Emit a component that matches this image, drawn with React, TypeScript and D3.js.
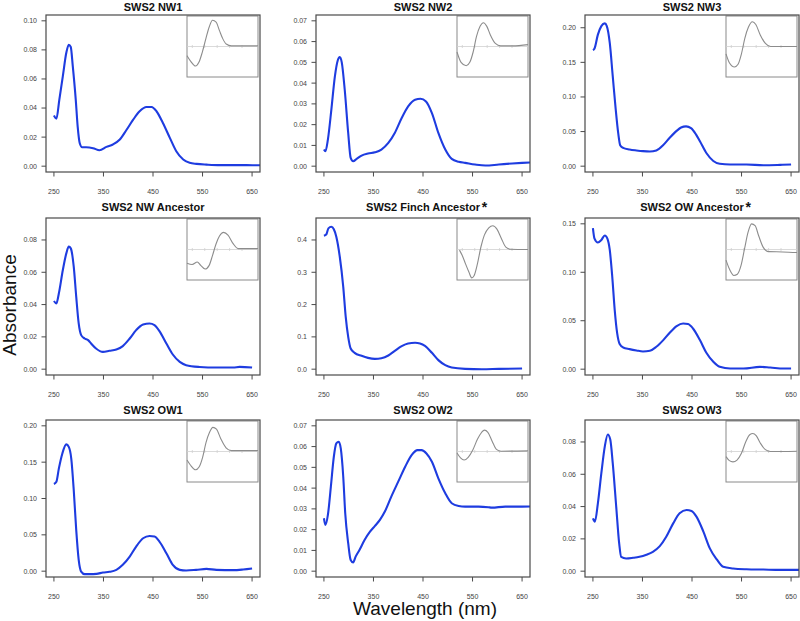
import React from "react";
import * as d3 from "d3";

// ---------- DATA ----------
const X_LIMITS = [250, 650];
const X_TICKS = [250, 350, 450, 550, 650];
const INSET_X_LIMITS = [300, 700];
const INSET_TICKS = [330, 400, 470, 540, 610];

const TITLES = [
  "SWS2 NW1", "SWS2 NW2", "SWS2 NW3",
  "SWS2 NW Ancestor", "SWS2 Finch Ancestor", "SWS2 OW Ancestor",
  "SWS2 OW1", "SWS2 OW2", "SWS2 OW3",
];
const STARRED = [false, false, false, false, true, true, false, false, false];

const Y_LIMITS = [
  [0, 0.1], [0, 0.07], [0, 0.21],
  [0, 0.09], [0, 0.45], [0, 0.15],
  [0, 0.2], [0, 0.07], [0, 0.09],
];
const Y_TICKS = [
  [0, 0.02, 0.04, 0.06, 0.08, 0.1],
  [0, 0.01, 0.02, 0.03, 0.04, 0.05, 0.06, 0.07],
  [0, 0.05, 0.1, 0.15, 0.2],
  [0, 0.02, 0.04, 0.06, 0.08],
  [0, 0.1, 0.2, 0.3, 0.4],
  [0, 0.05, 0.1, 0.15],
  [0, 0.05, 0.1, 0.15, 0.2],
  [0, 0.01, 0.02, 0.03, 0.04, 0.05, 0.06, 0.07],
  [0, 0.02, 0.04, 0.06, 0.08],
];
const Y_DECIMALS = [2, 2, 2, 2, 1, 2, 2, 2, 2];

// main absorbance spectra
const NW1_WL = [250, 255, 261, 268, 275, 280, 284, 288, 294, 298, 302, 307, 315, 329, 342, 356, 369, 383, 396, 410, 423, 437, 447, 457, 470, 484, 497, 511, 524, 538, 558, 585, 612, 639, 670, 700];
const NW1_ABS = [0.0348, 0.0327, 0.046, 0.062, 0.078, 0.0835, 0.082, 0.069, 0.046, 0.027, 0.016, 0.013, 0.013, 0.0124, 0.011, 0.0133, 0.0149, 0.0183, 0.0247, 0.032, 0.0378, 0.0407, 0.0407, 0.0378, 0.0297, 0.0195, 0.0103, 0.0046, 0.0023, 0.0016, 0.0011, 0.0007, 0.0007, 0.0007, 0.0006, 0.0006];

const NW2_WL = [250, 253, 258, 265, 272, 278, 282, 286, 292, 299, 304, 309, 316, 326, 339, 353, 366, 380, 393, 407, 420, 434, 445, 456, 468, 481, 495, 508, 522, 535, 555, 576, 603, 630, 650, 700];
const NW2_ABS = [0.008, 0.0072, 0.0128, 0.0272, 0.043, 0.051, 0.0525, 0.05, 0.0368, 0.016, 0.004, 0.0024, 0.0035, 0.0051, 0.0061, 0.0067, 0.008, 0.0112, 0.016, 0.0232, 0.0288, 0.032, 0.0325, 0.0312, 0.0256, 0.016, 0.008, 0.0035, 0.0021, 0.0016, 0.0008, 0.0003, 0.0008, 0.0013, 0.0016, 0.0022];

const NW3_WL = [250, 253, 260, 267, 274, 278, 284, 290, 296, 301, 305, 311, 324, 338, 351, 365, 378, 392, 405, 419, 428, 438, 448, 458, 466, 479, 493, 506, 527, 560, 594, 628, 650];
const NW3_ABS = [0.1677, 0.1696, 0.19, 0.2024, 0.2063, 0.2024, 0.178, 0.13, 0.082, 0.048, 0.0304, 0.0265, 0.0241, 0.0227, 0.0217, 0.0212, 0.0228, 0.0305, 0.041, 0.051, 0.0558, 0.0575, 0.055, 0.046, 0.036, 0.019, 0.0075, 0.0034, 0.0024, 0.0024, 0.0014, 0.0019, 0.0024];

const NWA_WL = [250, 255, 260, 268, 275, 280, 284, 290, 295, 300, 305, 312, 319, 325, 335, 349, 362, 376, 389, 403, 416, 430, 443, 453, 463, 477, 490, 504, 517, 544, 578, 612, 625, 650];
const NWA_ABS = [0.0422, 0.0407, 0.047, 0.0614, 0.0717, 0.0759, 0.0748, 0.0635, 0.0449, 0.0283, 0.0211, 0.019, 0.018, 0.0159, 0.0128, 0.0107, 0.0114, 0.0122, 0.0143, 0.019, 0.0242, 0.0277, 0.0283, 0.0273, 0.0236, 0.0159, 0.0091, 0.0045, 0.0025, 0.0014, 0.001, 0.001, 0.0014, 0.001];

const FINCH_WL = [250, 255, 259, 265, 270, 275, 282, 289, 294, 299, 304, 312, 326, 339, 353, 366, 380, 393, 407, 420, 434, 444, 454, 468, 481, 495, 508, 535, 569, 603, 650];
const FINCH_ABS = [0.413, 0.4176, 0.436, 0.441, 0.433, 0.41, 0.348, 0.255, 0.162, 0.1, 0.064, 0.0506, 0.0413, 0.035, 0.032, 0.034, 0.0424, 0.0568, 0.0713, 0.0796, 0.0817, 0.0796, 0.0723, 0.0506, 0.028, 0.0124, 0.0052, 0.001, 0.0, 0.001, 0.002];

const OWA_WL = [250, 253, 260, 267, 274, 279, 284, 289, 294, 299, 304, 311, 324, 338, 351, 365, 378, 392, 405, 419, 432, 442, 452, 466, 479, 493, 506, 527, 554, 587, 608, 635, 650];
const OWA_ABS = [0.1455, 0.135, 0.1307, 0.1334, 0.138, 0.135, 0.123, 0.0955, 0.061, 0.0369, 0.0259, 0.0224, 0.0207, 0.0193, 0.0183, 0.019, 0.0231, 0.03, 0.0376, 0.0445, 0.0472, 0.0466, 0.042, 0.03, 0.0169, 0.0076, 0.0024, 0.0007, 0.0007, 0.0024, 0.0017, 0.0007, 0.0007];

const OW1_WL = [250, 255, 260, 267, 275, 280, 285, 290, 295, 300, 305, 312, 322, 336, 349, 362, 376, 389, 403, 416, 430, 443, 453, 463, 477, 490, 504, 517, 537, 558, 578, 612, 632, 650];
const OW1_ABS = [0.12, 0.1231, 0.1414, 0.162, 0.1744, 0.171, 0.155, 0.1117, 0.0568, 0.0156, -0.0005, -0.004, -0.004, -0.0037, -0.0018, -0.0009, 0.0018, 0.0087, 0.02, 0.0339, 0.0453, 0.0485, 0.0476, 0.0407, 0.0247, 0.0087, 0.0018, 0.0009, 0.0018, 0.0032, 0.0018, 0.0014, 0.0023, 0.0037];

const OW2_WL = [250, 253, 258, 264, 270, 275, 280, 284, 289, 293, 299, 304, 309, 314, 322, 332, 343, 353, 363, 373, 386, 400, 414, 427, 439, 447, 457, 468, 481, 495, 508, 522, 535, 562, 582, 589, 616, 650, 700];
const OW2_ABS = [0.0255, 0.0223, 0.0271, 0.0407, 0.0551, 0.0615, 0.0623, 0.0591, 0.0455, 0.0279, 0.0135, 0.0054, 0.0042, 0.007, 0.0103, 0.015, 0.019, 0.0218, 0.0247, 0.0287, 0.0359, 0.0431, 0.0503, 0.0559, 0.0583, 0.0583, 0.0567, 0.0527, 0.0447, 0.0375, 0.0327, 0.0314, 0.0311, 0.0311, 0.0308, 0.0306, 0.0311, 0.0311, 0.0314];

const OW3_WL = [250, 254, 260, 267, 274, 280, 285, 290, 297, 303, 307, 317, 331, 344, 358, 371, 385, 398, 412, 425, 439, 449, 459, 473, 486, 500, 513, 533, 560, 594, 628, 700];
const OW3_ABS = [0.0327, 0.0307, 0.042, 0.0607, 0.0773, 0.0846, 0.0815, 0.0669, 0.04, 0.0172, 0.0089, 0.0079, 0.0083, 0.0089, 0.0102, 0.012, 0.0155, 0.0213, 0.0296, 0.0359, 0.0379, 0.0373, 0.0338, 0.0245, 0.0141, 0.0073, 0.0027, 0.0017, 0.0012, 0.001, 0.0008, 0.0008];

// inset difference spectra (relative units)
const NW1_DIFF_WL = [300, 319, 348, 367, 386, 406, 425, 444, 464, 483, 502, 521, 550, 700];
const NW1_DIFF = [-0.3, -0.47, -0.64, -0.52, -0.19, 0.25, 0.64, 0.86, 0.8, 0.52, 0.25, 0.08, 0.02, 0.02];
const NW2_DIFF_WL = [300, 323, 352, 372, 391, 410, 430, 449, 468, 488, 516, 546, 613, 700];
const NW2_DIFF = [-0.18, -0.52, -0.63, -0.52, -0.18, 0.33, 0.66, 0.78, 0.66, 0.38, 0.1, 0.02, 0.02, 0.06];
const NW3_DIFF_WL = [300, 319, 348, 368, 387, 406, 426, 449, 468, 493, 522, 551, 700];
const NW3_DIFF = [-0.24, -0.53, -0.67, -0.58, -0.24, 0.27, 0.63, 0.81, 0.72, 0.38, 0.1, 0.0, 0.0];
const NWA_DIFF_WL = [300, 329, 358, 377, 402, 425, 444, 464, 483, 506, 531, 560, 588, 700];
const NWA_DIFF = [-0.45, -0.49, -0.41, -0.52, -0.64, -0.52, -0.19, 0.19, 0.44, 0.56, 0.47, 0.19, 0.03, 0.03];
const FINCH_DIFF_WL = [314, 329, 348, 367, 383, 396, 415, 435, 454, 479, 502, 525, 550, 575, 602, 700];
const FINCH_DIFF = [-0.02, -0.19, -0.47, -0.74, -0.93, -0.86, -0.47, 0.09, 0.47, 0.71, 0.78, 0.67, 0.36, 0.08, 0.01, 0.0];
const OWA_DIFF_WL = [300, 320, 344, 364, 384, 404, 424, 444, 464, 484, 510, 540, 620, 700];
const OWA_DIFF = [-0.35, -0.65, -0.85, -0.81, -0.54, 0.01, 0.56, 0.84, 0.78, 0.45, 0.07, -0.07, -0.08, -0.1];
const OW1_DIFF_WL = [300, 320, 349, 368, 388, 407, 427, 446, 466, 491, 520, 550, 700];
const OW1_DIFF = [-0.28, -0.45, -0.6, -0.51, -0.19, 0.29, 0.63, 0.79, 0.73, 0.41, 0.12, 0.03, 0.03];
const OW2_DIFF_WL = [300, 320, 340, 363, 389, 415, 439, 454, 474, 498, 522, 548, 700];
const OW2_DIFF = [-0.05, -0.21, -0.28, -0.19, 0.05, 0.4, 0.63, 0.7, 0.63, 0.34, 0.07, 0.01, 0.02];
const OW3_DIFF_WL = [300, 319, 339, 362, 387, 412, 435, 451, 470, 493, 522, 551, 700];
const OW3_DIFF = [-0.17, -0.3, -0.34, -0.28, -0.06, 0.33, 0.56, 0.59, 0.52, 0.28, 0.06, 0.0, 0.01];

const SPECTRA_WL = [NW1_WL, NW2_WL, NW3_WL, NWA_WL, FINCH_WL, OWA_WL, OW1_WL, OW2_WL, OW3_WL];
const SPECTRA_ABS = [NW1_ABS, NW2_ABS, NW3_ABS, NWA_ABS, FINCH_ABS, OWA_ABS, OW1_ABS, OW2_ABS, OW3_ABS];
const DIFF_WL = [NW1_DIFF_WL, NW2_DIFF_WL, NW3_DIFF_WL, NWA_DIFF_WL, FINCH_DIFF_WL, OWA_DIFF_WL, OW1_DIFF_WL, OW2_DIFF_WL, OW3_DIFF_WL];
const DIFF_VAL = [NW1_DIFF, NW2_DIFF, NW3_DIFF, NWA_DIFF, FINCH_DIFF, OWA_DIFF, OW1_DIFF, OW2_DIFF, OW3_DIFF];

// ---------- LAYOUT ----------
const W = 800;
const H = 621;
const COL_LEFT = [46, 316, 585];
const ROW_TOP = [15, 218, 420];
const ROW_TITLE = [10.5, 211, 414];
const PW = 214;
const PH = 157;
const FONT = '"Liberation Sans", Arial, Helvetica, sans-serif';
const BLUE = "#1e3ce0";

function measure(text: string, font: string): number {
  try {
    const c = document.createElement("canvas").getContext("2d");
    if (!c) return text.length * 6;
    c.font = font;
    return c.measureText(text).width;
  } catch (e) {
    return text.length * 6;
  }
}

function Panel({ i }: { i: number }) {
  const col = i % 3;
  const row = Math.floor(i / 3);
  const left = COL_LEFT[col];
  const top = ROW_TOP[row];
  const right = left + PW;
  const bottom = top + PH;

  const xr = X_LIMITS[1] - X_LIMITS[0];
  const x = d3.scaleLinear().domain([X_LIMITS[0] - 0.04 * xr, X_LIMITS[1] + 0.04 * xr]).range([left, right]);
  const [y0, y1] = Y_LIMITS[i];
  const yrg = y1 - y0;
  const y = d3.scaleLinear().domain([y0 - 0.04 * yrg, y1 + 0.04 * yrg]).range([bottom, top]);

  const pts: [number, number][] = SPECTRA_WL[i].map((w, k) => [w, SPECTRA_ABS[i][k]]);
  const line = d3.line<[number, number]>().x((d) => x(d[0])).y((d) => y(d[1])).curve(d3.curveMonotoneX);

  // inset
  const ix0 = right - 73;
  const ix1 = right - 2;
  const iy0 = top + 1;
  const iy1 = top + 62;
  const ixs = d3.scaleLinear().domain(INSET_X_LIMITS).range([ix0, ix1]);
  const iys = d3.scaleLinear().domain([-1, 1]).range([iy1, iy0]);
  const ipts: [number, number][] = DIFF_WL[i].map((w, k) => [w, DIFF_VAL[i][k]]);
  const iline = d3.line<[number, number]>().x((d) => ixs(d[0])).y((d) => iys(d[1])).curve(d3.curveMonotoneX);

  const fmt = d3.format(`.${Y_DECIMALS[i]}f`);
  const cx = (left + right) / 2;
  const titleFont = `bold 11px ${FONT}`;
  const tw = measure(TITLES[i], titleFont);
  const clipId = `clip${i}`;

  return (
    <g>
      <defs>
        <clipPath id={clipId}>
          <rect x={left} y={top} width={PW} height={PH} />
        </clipPath>
      </defs>
      <text x={cx} y={ROW_TITLE[row]} textAnchor="middle" fontFamily={FONT} fontWeight="bold" fontSize={11} fill="#111">
        {TITLES[i]}
      </text>
      {STARRED[i] && (
        <text x={cx + tw / 2 + 1.5} y={ROW_TITLE[row] + 0.5} fontFamily={FONT} fontWeight="bold" fontSize={14} fill="#111">
          *
        </text>
      )}
      <path d={line(pts) || ""} fill="none" stroke={BLUE} strokeWidth={2.1} strokeLinejoin="round" clipPath={`url(#${clipId})`} />
      {/* inset */}
      <rect x={ix0} y={iy0} width={ix1 - ix0} height={iy1 - iy0} fill="white" stroke="#8a8a8a" strokeWidth={1} />
      <line x1={ix0} x2={ix1} y1={iys(0)} y2={iys(0)} stroke="#d0d0d0" strokeWidth={0.8} />
      {INSET_TICKS.map((t) => (
        <line key={t} x1={ixs(t)} x2={ixs(t)} y1={iys(0) - 1.5} y2={iys(0) + 1.5} stroke="#d0d0d0" strokeWidth={0.8} />
      ))}
      <path d={iline(ipts) || ""} fill="none" stroke="#8c8c8c" strokeWidth={1.1} />
      {/* frame */}
      <rect x={left} y={top} width={PW} height={PH} fill="none" stroke="#4a4a4a" strokeWidth={1.2} />
      {/* x axis */}
      {X_TICKS.map((t) => (
        <g key={t}>
          <line x1={x(t)} x2={x(t)} y1={bottom} y2={bottom + 4.5} stroke="#4a4a4a" strokeWidth={1} />
          <text x={x(t)} y={bottom + 21.5} textAnchor="middle" fontFamily={FONT} fontSize={7} fill="#444">
            {t}
          </text>
        </g>
      ))}
      {/* y axis */}
      {Y_TICKS[i].map((t) => (
        <g key={t}>
          <line x1={left - 4.5} x2={left} y1={y(t)} y2={y(t)} stroke="#4a4a4a" strokeWidth={1} />
          <text x={left - 9} y={y(t)} dy="0.35em" textAnchor="end" fontFamily={FONT} fontSize={7} fill="#444">
            {fmt(t)}
          </text>
        </g>
      ))}
    </g>
  );
}

export default function App() {
  return (
    <svg width={W} height={H} style={{ position: "absolute", left: 0, top: 0, background: "white" }}>
      <rect x={0} y={0} width={W} height={H} fill="white" />
      {TITLES.map((_, i) => (
        <Panel key={i} i={i} />
      ))}
      <text transform="translate(15.5,305) rotate(-90)" textAnchor="middle" fontFamily={FONT} fontSize={19} fill="#111">
        Absorbance
      </text>
      <text x={425} y={615} textAnchor="middle" fontFamily={FONT} fontSize={19} fill="#111">
        Wavelength (nm)
      </text>
    </svg>
  );
}
